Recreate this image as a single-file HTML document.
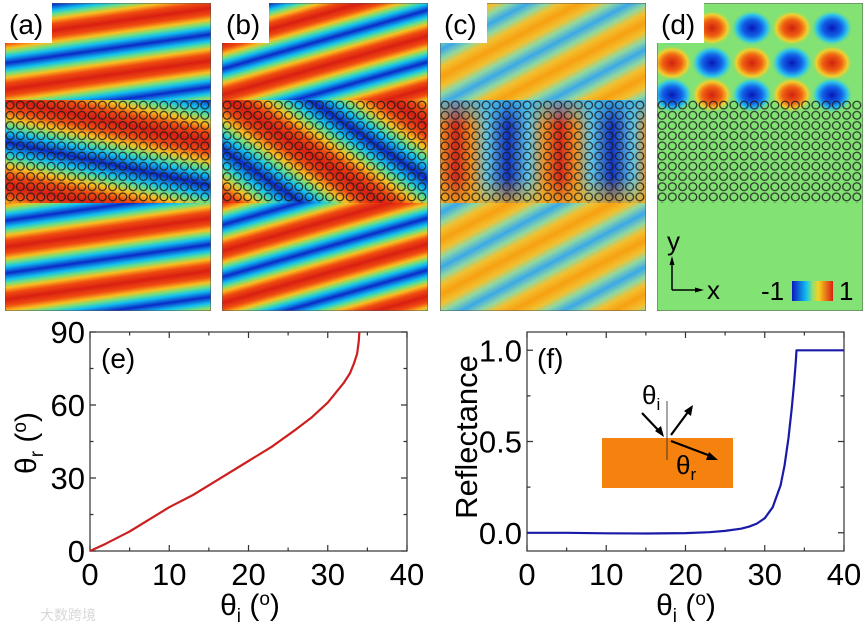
<!DOCTYPE html>
<html><head><meta charset="utf-8">
<style>
html,body{margin:0;padding:0;background:#fff;}
body{width:866px;height:630px;overflow:hidden;position:relative;font-family:"Liberation Sans",sans-serif;}
svg text{font-family:"Liberation Sans","Noto Sans CJK SC",sans-serif;}
</style></head>
<body>
<svg id="top" width="866" height="315" style="position:absolute;left:0;top:0" xmlns="http://www.w3.org/2000/svg">
<defs>
  <linearGradient id="jet" x1="0" y1="0" x2="0" y2="1">
    <stop offset="0" stop-color="#d81e12"/><stop offset="0.12" stop-color="#f04a10"/>
    <stop offset="0.22" stop-color="#f8c020"/><stop offset="0.3" stop-color="#70e080"/>
    <stop offset="0.38" stop-color="#10c0f0"/><stop offset="0.5" stop-color="#0a28c8"/>
    <stop offset="0.62" stop-color="#10c0f0"/><stop offset="0.7" stop-color="#70e080"/>
    <stop offset="0.78" stop-color="#f8c020"/><stop offset="0.88" stop-color="#f04a10"/>
    <stop offset="1" stop-color="#d81e12"/>
  </linearGradient>
  <linearGradient id="jetc" x1="0" y1="0" x2="0" y2="1">
    <stop offset="0" stop-color="#f7a010"/><stop offset="0.18" stop-color="#f2c030"/>
    <stop offset="0.32" stop-color="#90d8a0"/><stop offset="0.5" stop-color="#3aa8e8"/>
    <stop offset="0.68" stop-color="#90d8a0"/><stop offset="0.82" stop-color="#f2c030"/>
    <stop offset="1" stop-color="#f7a010"/>
  </linearGradient>
  <linearGradient id="jeth" x1="0" y1="0" x2="1" y2="0">
    <stop offset="0" stop-color="#d82818"/><stop offset="0.15" stop-color="#f09020"/>
    <stop offset="0.3" stop-color="#60c8e8"/><stop offset="0.5" stop-color="#1030c0"/>
    <stop offset="0.7" stop-color="#60c8e8"/><stop offset="0.85" stop-color="#f09020"/>
    <stop offset="1" stop-color="#d82818"/>
  </linearGradient>
  <linearGradient id="fadec" x1="0" y1="0" x2="0" y2="1">
    <stop offset="0" stop-color="#40b8e8" stop-opacity="0.85"/>
    <stop offset="0.25" stop-color="#40b8e8" stop-opacity="0"/>
    <stop offset="0.75" stop-color="#f0c020" stop-opacity="0"/>
    <stop offset="1" stop-color="#f0b020" stop-opacity="0.8"/>
  </linearGradient>
  <pattern id="pa" patternUnits="userSpaceOnUse" width="1000" height="52" patternTransform="translate(0,34) rotate(-8)"><rect width="1000" height="52" fill="url(#jet)"/></pattern>
  <pattern id="pab" patternUnits="userSpaceOnUse" width="1000" height="84" patternTransform="translate(0,96) rotate(12)"><rect width="1000" height="84" fill="url(#jet)"/></pattern>
  <pattern id="pb" patternUnits="userSpaceOnUse" width="1000" height="50" patternTransform="translate(0,40) rotate(-16)"><rect width="1000" height="50" fill="url(#jet)"/></pattern>
  <pattern id="pbb" patternUnits="userSpaceOnUse" width="1000" height="90" patternTransform="translate(0,92) rotate(34)"><rect width="1000" height="90" fill="url(#jet)"/></pattern>
  <pattern id="pc" patternUnits="userSpaceOnUse" width="1000" height="48" patternTransform="translate(0,20) rotate(-28)"><rect width="1000" height="48" fill="url(#jetc)"/></pattern>
  <pattern id="pcb" patternUnits="userSpaceOnUse" width="104" height="200" patternTransform="translate(16,0)"><rect width="104" height="200" fill="url(#jeth)"/></pattern>
  <pattern id="circ" patternUnits="userSpaceOnUse" width="10.25" height="10.2" patternTransform="translate(0,97)">
    <circle cx="5.1" cy="5.1" r="3.9" fill="none" stroke="#1a1a1a" stroke-width="1.3" stroke-opacity="0.85"/>
  </pattern>
  <radialGradient id="rb"><stop offset="0" stop-color="#d02010"/><stop offset="0.45" stop-color="#f06010"/><stop offset="0.75" stop-color="#f0d030"/><stop offset="1" stop-color="#80e070" stop-opacity="0"/></radialGradient>
  <radialGradient id="bb"><stop offset="0" stop-color="#0818b8"/><stop offset="0.45" stop-color="#1060e8"/><stop offset="0.75" stop-color="#30c8e8"/><stop offset="1" stop-color="#80e070" stop-opacity="0"/></radialGradient>
  <clipPath id="clip"><rect width="206" height="308"/></clipPath>
</defs>

<g transform="translate(5,3)" clip-path="url(#clip)">
  <rect width="206" height="308" fill="url(#pa)"/>
  <rect y="97" width="206" height="103" fill="url(#pab)"/>
  <rect y="97" width="206" height="103" fill="url(#circ)"/>
  <rect width="206" height="308" fill="none" stroke="#555" stroke-width="1"/>
  <rect width="47" height="40" fill="#fff"/>
  <text x="4" y="31" font-size="28">(a)</text>
</g>
<g transform="translate(222,3)" clip-path="url(#clip)">
  <rect width="206" height="308" fill="url(#pb)"/>
  <rect y="97" width="206" height="103" fill="url(#pbb)"/>
  <rect y="97" width="206" height="103" fill="url(#circ)"/>
  <rect width="206" height="308" fill="none" stroke="#555" stroke-width="1"/>
  <rect width="47" height="40" fill="#fff"/>
  <text x="4" y="31" font-size="28">(b)</text>
</g>
<g transform="translate(440,3)" clip-path="url(#clip)">
  <rect width="206" height="308" fill="url(#pc)"/>
  <rect y="97" width="206" height="103" fill="url(#pcb)"/>
  <rect y="97" width="206" height="103" fill="url(#fadec)"/>
  <rect y="97" width="206" height="103" fill="url(#circ)"/>
  <rect width="206" height="308" fill="none" stroke="#555" stroke-width="1"/>
  <rect width="47" height="40" fill="#fff"/>
  <text x="4" y="31" font-size="28">(c)</text>
</g>
<g transform="translate(657,3)" clip-path="url(#clip)">
  <rect width="206" height="308" fill="#82e274"/>
  <g id="blobs"></g>
  <rect y="97" width="206" height="103" fill="url(#circ)"/>
  <rect width="206" height="308" fill="none" stroke="#555" stroke-width="1"/>
  <rect width="47" height="40" fill="#fff"/>
  <text x="4" y="31" font-size="28">(d)</text>
  <text x="10" y="247" font-size="26">y</text>
  <text x="50" y="296" font-size="26">x</text>
  <path d="M15,287 L15,258" stroke="#000" stroke-width="1.5"/>
  <path d="M12.5,262 L15,253 L17.5,262 Z" fill="#000"/>
  <path d="M15,287 L42,287" stroke="#000" stroke-width="1.5"/>
  <path d="M38,284.5 L47,287 L38,289.5 Z" fill="#000"/>
  <text x="104" y="297" font-size="26">-1</text>
  <defs><linearGradient id="cb" x1="0" x2="1"><stop offset="0" stop-color="#0a18c0"/><stop offset="0.35" stop-color="#10c0f0"/><stop offset="0.5" stop-color="#90e070"/><stop offset="0.65" stop-color="#f8d020"/><stop offset="1" stop-color="#d82010"/></linearGradient></defs>
  <rect x="135" y="278" width="41" height="20" fill="url(#cb)"/>
  <text x="182" y="297" font-size="26">1</text>
</g>
</svg>

<svg id="bottom" width="866" height="315" style="position:absolute;left:0;top:315px" xmlns="http://www.w3.org/2000/svg">
  <g id="chartE"></g>
  <g id="chartF"></g>
  <text x="40" y="305" font-size="14" fill="#d8d8d8">大数跨境</text>
</svg>

<script>
const blobRows = [25, 60, 92];
const blobCols = [15, 55, 95, 135, 175];
const blobSigns = [[-1,1,-1,1,-1],[1,-1,1,-1,1],[-1,1,-1,1,-1]];
const NS = 'http://www.w3.org/2000/svg';
const bg = document.getElementById('blobs');
blobRows.forEach((ry, i) => blobCols.forEach((cx, j) => {
  const e = document.createElementNS(NS, 'ellipse');
  
  
  e.setAttribute('cx', cx); e.setAttribute('cy', ry);
  e.setAttribute('rx', 21); e.setAttribute('ry', 18);
  e.setAttribute('fill', blobSigns[i][j] > 0 ? 'url(#rb)' : 'url(#bb)');
  bg.appendChild(e);
}));

const eTheta_i = [0, 2, 5, 8, 10, 13, 16, 20, 23, 26, 28, 30, 31, 32, 32.8, 33.3, 33.7, 33.9, 34];
const eTheta_r = [0, 3, 8, 14, 18, 23, 29, 37, 43, 50, 55, 61, 65, 69, 73, 77, 81, 86, 90];
const eXTicks = [0, 10, 20, 30, 40];
const eYTicks = [0, 30, 60, 90];
const fTheta_i = [0, 5, 10, 15, 20, 23, 25, 27, 28, 29, 30, 31, 32, 32.5, 33, 33.4, 33.7, 33.9, 34, 37, 40];
const fRefl = [0, 0, -0.003, -0.004, -0.002, 0.003, 0.01, 0.022, 0.033, 0.05, 0.08, 0.14, 0.26, 0.37, 0.52, 0.68, 0.82, 0.93, 1.0, 1.0, 1.0];
const fXTicks = [0, 10, 20, 30, 40];
const fYTicks = [0, 0.5, 1.0];

function chart(g, o) {
  const sx = v => o.x0 + (v - o.xmin) / (o.xmax - o.xmin) * (o.x1 - o.x0);
  const sy = v => o.y1 - (v - o.ymin) / (o.ymax - o.ymin) * (o.y1 - o.y0);
  const add = (tag, attrs, name, txt) => {
    const e = document.createElementNS(NS, tag);
    for (const k in attrs) e.setAttribute(k, attrs[k]);
    
    
    if (txt !== undefined) e.textContent = txt;
    g.appendChild(e); return e;
  };
  add('rect', {x:o.x0, y:o.y0, width:o.x1-o.x0, height:o.y1-o.y0, fill:'none', stroke:'#333', 'stroke-width':1.2}, 'plot-frame');
  const xt = o.xticks, yt = o.yticks;
  const xminor = [], yminor = [];
  for (let i = 0; i < xt.length - 1; i++) xminor.push((xt[i] + xt[i+1]) / 2);
  for (let i = 0; i < yt.length - 1; i++) yminor.push((yt[i] + yt[i+1]) / 2);
  if (o.ymin < yt[0]) yminor.push(yt[0] - (yt[1]-yt[0])/2);
  if (o.ymax > yt[yt.length-1]) yminor.push(yt[yt.length-1] + (yt[1]-yt[0])/2);
  let d = '';
  xt.forEach(v => { const x = sx(v); d += `M${x},${o.y1}v-6M${x},${o.y0}v6`; });
  xminor.forEach(v => { const x = sx(v); d += `M${x},${o.y1}v-3.5M${x},${o.y0}v3.5`; });
  yt.forEach(v => { const y = sy(v); d += `M${o.x0},${y}h6M${o.x1},${y}h-6`; });
  yminor.filter(v => v > o.ymin && v < o.ymax).forEach(v => { const y = sy(v); d += `M${o.x0},${y}h3.5M${o.x1},${y}h-3.5`; });
  add('path', {d, stroke:'#333', 'stroke-width':1.2, fill:'none'}, 'tick-marks');
  xt.forEach(v => add('text', {x:sx(v), y:o.y1+34, 'font-size':31, 'text-anchor':'middle'}, 'x-tick-label', String(v)));
  yt.forEach(v => add('text', {x:o.x0-5, y:sy(v)+11, 'font-size':31, 'text-anchor':'end'}, 'y-tick-label', o.yfmt(v)));
  let p = '';
  o.xs.forEach((v, i) => { p += (i ? 'L' : 'M') + sx(v).toFixed(1) + ',' + sy(o.ys[i]).toFixed(1); });
  add('path', {d:p, stroke:o.color, 'stroke-width':2.2, fill:'none', 'stroke-linejoin':'round'}, o.seriesName);
  return {sx, sy, add};
}
const thetaLabel = s => 'θ<tspan font-size="19" dy="7">' + s + '</tspan><tspan dy="-7"> (</tspan><tspan font-size="19" dy="-10">o</tspan><tspan dy="10">)</tspan>';

const E = chart(document.getElementById('chartE'), {x0:90, x1:407, y0:17, y1:236, xmin:0, xmax:40, ymin:0, ymax:90,
  xticks:eXTicks, yticks:eYTicks, yfmt:v=>String(v), xs:eTheta_i, ys:eTheta_r, color:'#cc1f1f', seriesName:'theta-r-curve'});
E.add('text', {x:101, y:53, 'font-size':28}, 'panel-label-e', '(e)');
const ex = E.add('text', {x:250, y:300, 'font-size':30, 'text-anchor':'middle'}, 'x-axis-title', '');
ex.innerHTML = thetaLabel('i');
const ey = E.add('text', {transform:'translate(36,128) rotate(-90)', 'font-size':30, 'text-anchor':'middle'}, 'y-axis-title', '');
ey.innerHTML = thetaLabel('r');

const F = chart(document.getElementById('chartF'), {x0:527, x1:844, y0:17, y1:236, xmin:0, xmax:40, ymin:-0.1, ymax:1.1,
  xticks:fXTicks, yticks:fYTicks, yfmt:v=>v.toFixed(1), xs:fTheta_i, ys:fRefl, color:'#1a1aa8', seriesName:'reflectance-curve'});
F.add('text', {x:537, y:53, 'font-size':28}, 'panel-label-f', '(f)');
const fx = F.add('text', {x:686, y:300, 'font-size':30, 'text-anchor':'middle'}, 'x-axis-title', '');
fx.innerHTML = thetaLabel('i');
F.add('text', {transform:'translate(477,122) rotate(-90)', 'font-size':31, 'text-anchor':'middle'}, 'y-axis-title', 'Reflectance');
const gF = document.getElementById('chartF');
const inset = document.createElementNS(NS, 'g');


inset.innerHTML = '<rect x="602" y="123" width="131" height="50" fill="#f5820e"/>' +
 '<line x1="667" y1="86" x2="667" y2="145" stroke="#222" stroke-width="0.8"/>' +
 '<line x1="642" y1="98" x2="660" y2="117" stroke="#000" stroke-width="2.2"/><path d="M664,122 L655,116 L661,111 Z" fill="#000"/>' +
 '<line x1="671" y1="120" x2="688" y2="97" stroke="#000" stroke-width="2.2"/><path d="M693,90 L691,101 L684,96 Z" fill="#000"/>' +
 '<line x1="671" y1="126" x2="708" y2="140" stroke="#000" stroke-width="2.2"/><path d="M718,145 L706,145 L709,137 Z" fill="#000"/>' +
 '<text x="642" y="89" font-size="26">θ<tspan font-size="17" dy="6">i</tspan></text>' +
 '<text x="676" y="159" font-size="26">θ<tspan font-size="17" dy="6">r</tspan></text>';
gF.appendChild(inset);
</script>
</body></html>
